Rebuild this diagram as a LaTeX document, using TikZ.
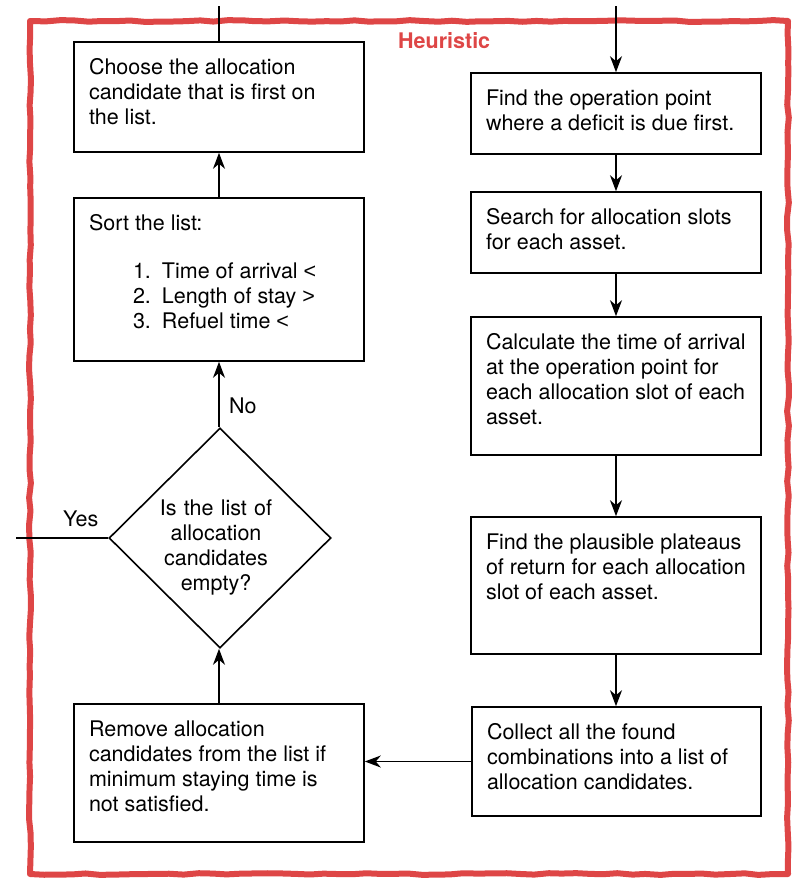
\documentclass[tikz,border=0pt]{standalone}
\usepackage{fontspec}
\setmainfont{TeX Gyre Heros}
\newfontfamily\symfont{Liberation Sans}
\usetikzlibrary{shapes.geometric,arrows.meta,decorations.pathmorphing}
\definecolor{hred}{RGB}{222,70,70}
\newcommand{\bxt}[3]{\parbox[c][#2pt][t]{#1pt}{\raggedright\leftskip=15pt\rule{0pt}{32pt}#3}}
\newcommand{\litem}[2]{\hspace*{44pt}\makebox[29pt][l]{#1}#2}
\begin{document}
\begin{tikzpicture}[x=1pt,y=-1pt,
  every node/.style={font=\fontsize{21.5}{25}\selectfont},
  box/.style={draw, line width=1.6pt, rectangle, inner sep=0pt, fill=white},
  conn/.style={line width=1.5pt},
  arr/.style={conn, -{Stealth[length=16pt,width=12pt,inset=5pt]}},
  lbl/.style={anchor=base west, inner sep=0pt}
]
\useasboundingbox (0,0) rectangle (796,879);
\pgfmathsetseed{7}
\draw[hred, line width=6pt, line join=round, decorate,
  decoration={random steps,segment length=14pt,amplitude=0.9pt}]
  (30,21) rectangle (788,874);

\node[font=\fontsize{21.5}{25}\selectfont\bfseries, text=hred, lbl] (heur) at (398,48) {Heuristic};

% left column
\node[box] (b1) at (219,97) {\bxt{290}{110}{Choose the allocation\\candidate that is first on\\the list.}};
\node[box] (b2) at (219,279.5) {\bxt{290}{163}{Sort the list:\\[23pt]\litem{1.}{Time of arrival {\symfont <}}\\\litem{2.}{Length of stay {\symfont >}}\\\litem{3.}{Refuel time {\symfont <}}}};
\node[box, diamond, aspect=1, minimum width=222pt, minimum height=220pt] (d) at (220,538) {};
\node[align=center, text width=150pt, anchor=base] (dt) at (216,515) {Is the list of\\allocation\\candidates\\empty?};
\node[box] (b3) at (219,773) {\bxt{290}{138}{Remove allocation\\candidates from the list if\\minimum staying time is\\not satisfied.}};

% right column
\node[box] (r1) at (616,113.5) {\bxt{290}{81}{Find the operation point\\where a deficit is due first.}};
\node[box] (r2) at (616,232.5) {\bxt{290}{81}{Search for allocation slots\\for each asset.}};
\node[box] (r3) at (616,386) {\bxt{290}{138}{Calculate the time of arrival\\at the operation point for\\each allocation slot of each\\asset.}};
\node[box] (r4) at (616,585.5) {\bxt{290}{137}{Find the plausible plateaus\\of return for each allocation\\slot of each asset.}};
\node[box] (r5) at (616.5,761.5) {\bxt{289}{109}{Collect all the found\\combinations into a list of\\allocation candidates.}};

\node[lbl] (no) at (229,413) {No};
\node[lbl] (yes) at (63,526) {Yes};

\coordinate (inL) at (219,6);
\coordinate (inR) at (616,6);
\coordinate (outL) at (16,538);

\draw[conn] (inL) -- (b1.north);
\draw[arr] (inR) -- (r1.north);
\draw[arr] (b2.north) -- (b1.south);
\draw[arr] (d.north -| b2.south) -- (b2.south);
\draw[arr] (b3.north) -- (d.south -| b3.north);
\draw[conn] (d.west) -- (outL);
\draw[arr] (r1.south) -- (r2.north);
\draw[arr] (r2.south) -- (r3.north);
\draw[arr] (r3.south) -- (r4.north);
\draw[arr] (r4.south) -- (r4.south |- r5.north);
\draw[arr] (r5.west) -- (b3.east |- r5.west);
\end{tikzpicture}
\end{document}
